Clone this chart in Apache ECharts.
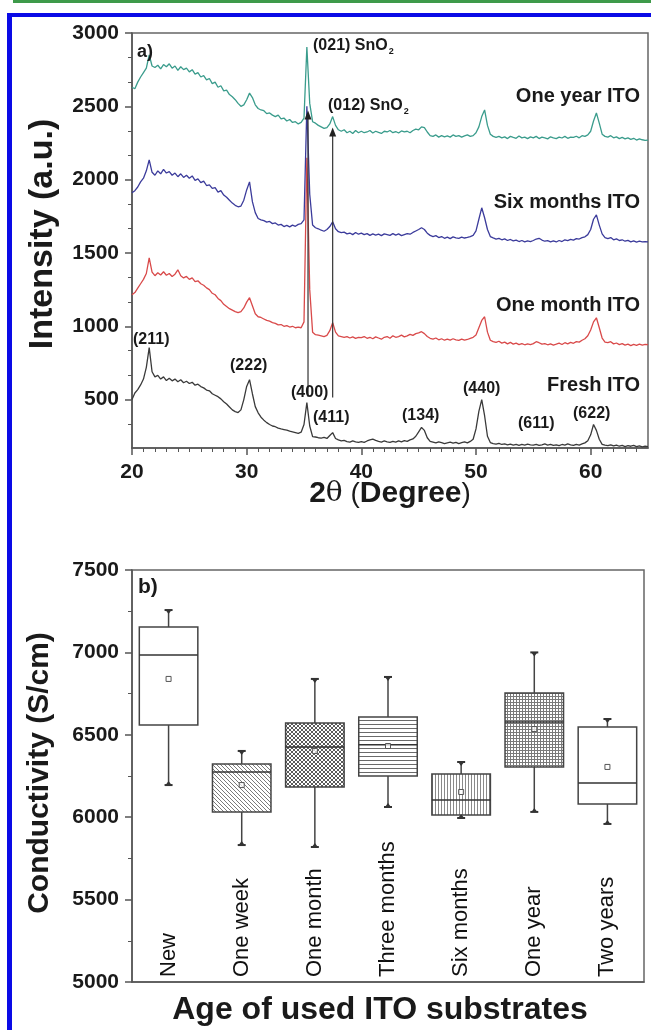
<!DOCTYPE html>
<html><head><meta charset="utf-8">
<script src="https://cdn.jsdelivr.net/npm/echarts@6/dist/echarts.min.js"></script>
<style>html,body{margin:0;padding:0;background:#fff;}#chart{width:651px;height:1030px;}</style>
</head><body><div id="chart"></div>
<script>
// ---------- Panel a) XRD data (2θ from 20° to 65°, step 0.25°) ----------
const thetaStart = 20;
const thetaStep = 0.25;
const oneYearITO = [
2630,2620,2665,2700,2730,2760,2850,2775,2765,2780,2755,2785,2770,2790,2760,2775,2745,2770,2750,2760,
2735,2750,2720,2730,2700,2710,2680,2690,2655,2665,2630,2640,2605,2610,2580,2565,2545,2520,2500,2510,
2545,2590,2560,2510,2485,2475,2470,2450,2455,2440,2430,2440,2415,2420,2400,2410,2390,2395,2380,2390,
2420,2905,2520,2395,2385,2370,2360,2350,2355,2380,2430,2370,2340,2330,2340,2320,2330,2315,2335,2320,
2330,2320,2325,2335,2318,2330,2322,2315,2330,2325,2335,2320,2328,2318,2332,2325,2330,2320,2335,2345,
2340,2360,2355,2325,2300,2295,2305,2290,2300,2292,2298,2290,2305,2295,2300,2290,2298,2305,2295,2300,
2320,2360,2430,2475,2370,2310,2295,2288,2295,2285,2292,2280,2295,2288,2282,2298,2285,2290,2280,2292,
2285,2295,2280,2290,2285,2278,2292,2285,2280,2290,2284,2295,2282,2290,2288,2296,2285,2300,2295,2305,
2330,2400,2455,2385,2310,2295,2290,2300,2285,2292,2280,2288,2278,2285,2275,2282,2270,2278,2272,2268,
2270];
const sixMonthsITO = [
1910,1925,1950,1985,2010,2060,2135,2050,2030,2060,2040,2070,2045,2055,2030,2045,2020,2040,2015,2030,
2010,2025,1995,2005,1980,1990,1960,1965,1940,1945,1915,1925,1895,1880,1860,1840,1825,1815,1820,1860,
1930,1985,1850,1775,1735,1726,1720,1710,1715,1700,1705,1690,1695,1680,1688,1678,1690,1682,1695,1700,
1725,2500,1900,1690,1672,1665,1655,1648,1660,1680,1713,1665,1645,1638,1642,1630,1636,1625,1640,1628,
1635,1625,1632,1620,1630,1622,1628,1618,1630,1625,1620,1632,1622,1630,1618,1625,1632,1628,1640,1650,
1660,1672,1660,1635,1620,1612,1618,1605,1612,1600,1608,1598,1610,1603,1600,1608,1602,1606,1612,1620,
1650,1730,1808,1740,1660,1612,1603,1595,1600,1590,1596,1585,1592,1582,1588,1578,1585,1576,1582,1578,
1585,1595,1600,1588,1580,1584,1576,1582,1575,1585,1578,1590,1584,1592,1588,1598,1595,1605,1610,1625,
1660,1730,1760,1690,1630,1605,1598,1605,1590,1596,1585,1590,1580,1586,1576,1582,1574,1580,1575,1578,
1576];
const oneMonthITO = [
1215,1230,1260,1290,1320,1360,1467,1370,1345,1365,1350,1372,1348,1360,1340,1355,1385,1345,1330,1340,
1320,1330,1305,1310,1290,1280,1262,1250,1225,1215,1190,1175,1150,1135,1120,1110,1100,1093,1100,1125,
1165,1195,1140,1085,1065,1060,1050,1040,1035,1025,1020,1010,1012,1000,1005,995,1000,990,995,990,
1030,2150,1250,960,943,940,935,930,938,970,1025,960,935,930,925,930,920,928,918,925,
922,930,918,925,915,928,920,912,925,930,918,935,925,930,940,928,935,945,938,950,
955,963,950,930,918,912,920,908,915,905,912,906,915,908,904,912,905,910,918,925,
940,990,1040,1065,960,905,895,890,898,885,892,880,890,878,885,875,882,874,880,875,
882,895,888,878,882,874,880,872,878,885,876,888,880,890,884,895,892,905,915,935,
975,1030,1058,990,920,892,888,895,880,886,875,882,872,878,868,876,870,878,872,876,
875];
const freshITO = [
500,545,568,600,640,720,855,690,655,665,640,655,630,645,628,640,622,635,615,625,
610,618,598,605,589,580,565,560,540,530,520,505,485,470,450,430,418,412,430,500,
590,636,540,452,410,380,360,343,330,320,315,305,300,296,292,285,280,275,270,278,
330,479,320,248,245,240,238,242,235,255,275,235,225,218,222,214,210,218,212,208,
214,208,218,225,230,222,215,210,218,212,208,215,210,218,212,220,215,225,232,250,
280,310,290,240,215,210,205,212,207,200,205,210,203,208,200,206,212,205,215,230,
300,420,500,390,250,207,200,196,202,194,198,192,196,190,195,188,194,190,196,192,
190,195,188,192,198,190,195,188,192,186,194,190,198,192,188,195,190,198,205,220,
260,330,290,230,195,190,186,192,184,190,182,188,180,186,182,188,180,185,178,182,
180];
const xrdNames = ['Fresh ITO', 'One month ITO', 'Six months ITO', 'One year ITO'];
const xrdColors = ['#3a3a3a', '#d94a4a', '#3b3b9b', '#3a9c8c'];
const xrdSeries = [freshITO, oneMonthITO, sixMonthsITO, oneYearITO];
const xTicksA = [20, 30, 40, 50, 60];
const yTicksA = [500, 1000, 1500, 2000, 2500, 3000];
// SnO2 reflection markers (2θ, base and arrow tip intensity)
const sno2Theta = [35.35, 37.5];
const sno2Base = [520, 515];
const sno2Tip = [2440, 2325];

// ---------- Panel b) conductivity box statistics ----------
const ageCategories = ['New', 'One week', 'One month', 'Three months', 'Six months', 'One year', 'Two years'];
const boxMin    = [6195, 5831, 5819, 6062, 5995, 6032, 5959];
const boxQ1     = [6559, 6032, 6183, 6250, 6013, 6305, 6080];
const boxMedian = [6984, 6274, 6426, 6440, 6104, 6578, 6207];
const boxQ3     = [7154, 6323, 6572, 6608, 6262, 6754, 6547];
const boxMax    = [7257, 6402, 6839, 6851, 6335, 7000, 6596];
const boxMean   = [6839, 6195, 6402, 6432, 6153, 6535, 6305];

// ---------- patterns ----------
function makeTile(size, draw) {
  const c = document.createElement('canvas');
  c.width = size; c.height = size;
  const g = c.getContext('2d');
  g.fillStyle = '#ffffff'; g.fillRect(0, 0, size, size);
  draw(g, size);
  return { image: c, repeat: 'repeat' };
}
const patDiag = makeTile(4, (g, s) => { g.strokeStyle = '#7a7a7a'; g.lineWidth = 1; g.beginPath();
  for (let k = -1; k <= 1; k++) { g.moveTo(k * s, 0); g.lineTo(k * s + s, s); } g.stroke(); });
const patCross = makeTile(4, (g, s) => { g.strokeStyle = '#5a5a5a'; g.lineWidth = 1; g.beginPath();
  for (let k = -1; k <= 1; k++) { g.moveTo(k * s, 0); g.lineTo(k * s + s, s); g.moveTo(k * s + s, 0); g.lineTo(k * s, s); } g.stroke(); });
const patHoriz = makeTile(4, (g, s) => { g.fillStyle = '#6a6a6a'; g.fillRect(0, 0, s, 1); });
const patVert = makeTile(3, (g, s) => { g.fillStyle = '#8a8a8a'; g.fillRect(0, 0, 1, s); });
const patGrid = makeTile(3, (g, s) => { g.fillStyle = '#7a7a7a'; g.fillRect(0, 0, s, 1); g.fillRect(0, 0, 1, s); });
const boxFills = ['#ffffff', patDiag, patCross, patHoriz, patVert, patGrid, '#ffffff'];

// ---------- build option ----------
const FONT = 'Liberation Sans, Arial, sans-serif';
const axisColor = '#555';
const plain = v => String(v);
const lineSeries = xrdSeries.map((vals, s) => ({
  type: 'line', name: xrdNames[s], xAxisIndex: 0, yAxisIndex: 0,
  data: vals.map((v, i) => [thetaStart + i * thetaStep, v]),
  showSymbol: false, symbol: 'none', silent: true,
  lineStyle: { color: xrdColors[s], width: 1.3 }, z: 3 + s
}));
const arrowSeries = sno2Theta.map((t, k) => ({
  type: 'line', xAxisIndex: 0, yAxisIndex: 0, silent: true, z: 10,
  data: [{ value: [t, sno2Base[k]], symbol: 'none' }, { value: [t, sno2Tip[k]] }],
  symbol: 'triangle', symbolSize: [7, 9], showSymbol: true,
  itemStyle: { color: '#222' }, lineStyle: { color: '#333', width: 1.2 }
}));
const minorX = [], minorY = [];
for (let v = 21; v < 65; v++) if (v % 10 !== 0) minorX.push(v);
for (let k = 1; k < 18; k++) if (k % 3 !== 0) minorY.push(k * 500 / 3);

const boxData = ageCategories.map((c, i) => [i, boxMin[i], boxQ1[i], boxMedian[i], boxQ3[i], boxMax[i], boxMean[i]]);

const boxSeries = {
  type: 'custom', xAxisIndex: 2, yAxisIndex: 2, data: boxData, silent: true,
  renderItem: function (params, api) {
    const idx = api.value(0);
    const cx = api.coord([idx, api.value(3)])[0];
    const w = api.size([1, 0])[0] * 0.8;
    const yLo = api.coord([idx, api.value(1)])[1];
    const yQ1 = api.coord([idx, api.value(2)])[1];
    const yMed = api.coord([idx, api.value(3)])[1];
    const yQ3 = api.coord([idx, api.value(4)])[1];
    const yHi = api.coord([idx, api.value(5)])[1];
    const yMean = api.coord([idx, api.value(6)])[1];
    const stroke = '#444';
    return { type: 'group', children: [
      { type: 'line', shape: { x1: cx, y1: yHi, x2: cx, y2: yQ3 }, style: { stroke: stroke, lineWidth: 1.5 } },
      { type: 'line', shape: { x1: cx, y1: yQ1, x2: cx, y2: yLo }, style: { stroke: stroke, lineWidth: 1.5 } },
      { type: 'rect', shape: { x: cx - w / 2, y: yQ3, width: w, height: yQ1 - yQ3 }, style: { fill: boxFills[idx], stroke: stroke, lineWidth: 1.5 } },
      { type: 'line', shape: { x1: cx - w / 2, y1: yMed, x2: cx + w / 2, y2: yMed }, style: { stroke: '#333', lineWidth: 1.5 } },
      { type: 'line', shape: { x1: cx - 4, y1: yHi, x2: cx + 4, y2: yHi }, style: { stroke: '#333', lineWidth: 2 } },
      { type: 'polygon', shape: { points: [[cx - 3, yHi], [cx + 3, yHi], [cx, yHi + 4]] }, style: { fill: '#333' } },
      { type: 'line', shape: { x1: cx - 4, y1: yLo, x2: cx + 4, y2: yLo }, style: { stroke: '#333', lineWidth: 2 } },
      { type: 'polygon', shape: { points: [[cx - 3, yLo], [cx + 3, yLo], [cx, yLo - 4]] }, style: { fill: '#333' } },
      { type: 'rect', shape: { x: cx - 2.5, y: yMean - 2.5, width: 5, height: 5 }, style: { fill: 'rgba(255,255,255,0.7)', stroke: '#555', lineWidth: 1 } }
    ] };
  }
};

function txt(text, x, y, size, opts) {
  opts = opts || {};
  return { type: 'text', x: x, y: y, rotation: opts.rotation || 0, z: 50, silent: true,
    style: { text: text, font: (opts.weight || 'bold') + ' ' + size + 'px ' + FONT,
      fill: opts.color || '#1a1a1a', align: opts.align || 'left', verticalAlign: 'middle',
      textAlign: opts.align || 'left', textVerticalAlign: 'middle', rich: opts.rich } };
}
const subRich = { a: { font: 'bold 16px ' + FONT, fill: '#1a1a1a', lineHeight: 20, verticalAlign: 'middle' },
                  s: { font: 'bold 9px ' + FONT, fill: '#1a1a1a', lineHeight: 20, verticalAlign: 'bottom', padding: [0, 0, 0, 1] } };

const option = {
  animation: false,
  backgroundColor: '#ffffff',
  grid: [
    { left: 132, top: 33, width: 516, height: 415, show: true, borderColor: '#666', borderWidth: 1.5 },
    { left: 132, top: 570, width: 512, height: 412, show: true, borderColor: '#666', borderWidth: 1.5 }
  ],
  xAxis: [
    { type: 'value', gridIndex: 0, min: 20, max: 65, position: 'bottom',
      axisLine: { onZero: false, lineStyle: { color: axisColor, width: 1.5 } },
      axisTick: { customValues: xTicksA, length: 7, lineStyle: { color: axisColor, width: 1.5 } },
      axisLabel: { customValues: xTicksA, formatter: plain, margin: 14, color: '#1a1a1a', fontWeight: 'bold', fontSize: 21, fontFamily: FONT },
      splitLine: { show: false } },
    { type: 'value', gridIndex: 0, min: 20, max: 65, position: 'bottom',
      axisLine: { show: false },
      axisTick: { customValues: minorX, length: 4, lineStyle: { color: axisColor, width: 1 } },
      axisLabel: { show: false }, splitLine: { show: false } },
    { type: 'category', gridIndex: 1, data: ageCategories, position: 'bottom',
      axisLine: { onZero: false, lineStyle: { color: axisColor, width: 1.5 } },
      axisTick: { alignWithLabel: true, length: 7, lineStyle: { color: axisColor, width: 1.5 } },
      axisLabel: { inside: true, rotate: 90, interval: 0, margin: 5, color: '#111', fontSize: 22, fontFamily: FONT },
      splitLine: { show: false } }
  ],
  yAxis: [
    { type: 'value', gridIndex: 0, min: 170, max: 3000, position: 'left',
      axisLine: { show: true, lineStyle: { color: axisColor, width: 1.5 } },
      axisTick: { show: true, customValues: yTicksA, length: 7, lineStyle: { color: axisColor, width: 1.5 } },
      axisLabel: { customValues: yTicksA, formatter: plain, margin: 13, color: '#1a1a1a', fontWeight: 'bold', fontSize: 21, fontFamily: FONT },
      splitLine: { show: false } },
    { type: 'value', gridIndex: 0, min: 170, max: 3000, position: 'left',
      axisLine: { show: false },
      axisTick: { show: true, customValues: minorY, length: 4, lineStyle: { color: axisColor, width: 1 } },
      axisLabel: { show: false }, splitLine: { show: false } },
    { type: 'value', gridIndex: 1, min: 5000, max: 7500, interval: 500, position: 'left',
      axisLine: { show: true, lineStyle: { color: axisColor, width: 1.5 } },
      axisTick: { show: true, length: 7, lineStyle: { color: axisColor, width: 1.5 } },
      minorTick: { show: true, splitNumber: 2, length: 4, lineStyle: { color: axisColor, width: 1 } },
      axisLabel: { formatter: plain, margin: 13, color: '#1a1a1a', fontWeight: 'bold', fontSize: 21, fontFamily: FONT },
      splitLine: { show: false } }
  ],
  series: lineSeries.concat(arrowSeries, [boxSeries]),
  graphic: [
    { type: 'rect', shape: { x: 13, y: 0, width: 638, height: 3 }, style: { fill: '#3e9a4a' }, silent: true },
    { type: 'rect', shape: { x: 7, y: 13, width: 644, height: 4 }, style: { fill: '#0a0ae6' }, silent: true },
    { type: 'rect', shape: { x: 7, y: 13, width: 5, height: 1017 }, style: { fill: '#0a0ae6' }, silent: true },
    txt('a)', 137, 52, 18),
    txt('b)', 138, 587, 21),
    { type: 'text', x: 313, y: 46, z: 50, silent: true, style: { text: '{a|(021) SnO}{s|2}', rich: subRich, align: 'left', verticalAlign: 'middle' } },
    { type: 'text', x: 328, y: 106, z: 50, silent: true, style: { text: '{a|(012) SnO}{s|2}', rich: subRich, align: 'left', verticalAlign: 'middle' } },
    txt('One year ITO', 640, 96, 20, { align: 'right' }),
    txt('Six months ITO', 640, 202, 20, { align: 'right' }),
    txt('One month ITO', 640, 305, 20, { align: 'right' }),
    txt('Fresh ITO', 640, 385, 20, { align: 'right' }),
    txt('(211)', 133, 340, 16),
    txt('(222)', 230, 366, 16),
    txt('(400)', 291, 393, 16),
    txt('(411)', 313, 418, 16),
    txt('(134)', 402, 416, 16),
    txt('(440)', 463, 389, 16),
    txt('(611)', 518, 424, 16),
    txt('(622)', 573, 414, 16),
    txt('Intensity (a.u.)', 43, 234, 34, { align: 'center', rotation: Math.PI / 2 }),
    { type: 'text', x: 390, y: 494, z: 50, silent: true, style: { text: '{a|2}{b|θ}{c| (}{a|Degree}{c|)}', align: 'center', verticalAlign: 'middle',
      rich: { a: { font: 'bold 30px ' + FONT, fill: '#1a1a1a' }, b: { font: '28px DejaVu Serif, serif', fill: '#1a1a1a' }, c: { font: '28px ' + FONT, fill: '#1a1a1a' } } } },
    txt('Conductivity (S/cm)', 40, 773, 30, { align: 'center', rotation: Math.PI / 2 }),
    txt('Age of used ITO substrates', 380, 1010, 32, { align: 'center' })
  ]
};
const chart = echarts.init(document.getElementById('chart'), null, { renderer: 'canvas' });
chart.setOption(option);
</script></body></html>
